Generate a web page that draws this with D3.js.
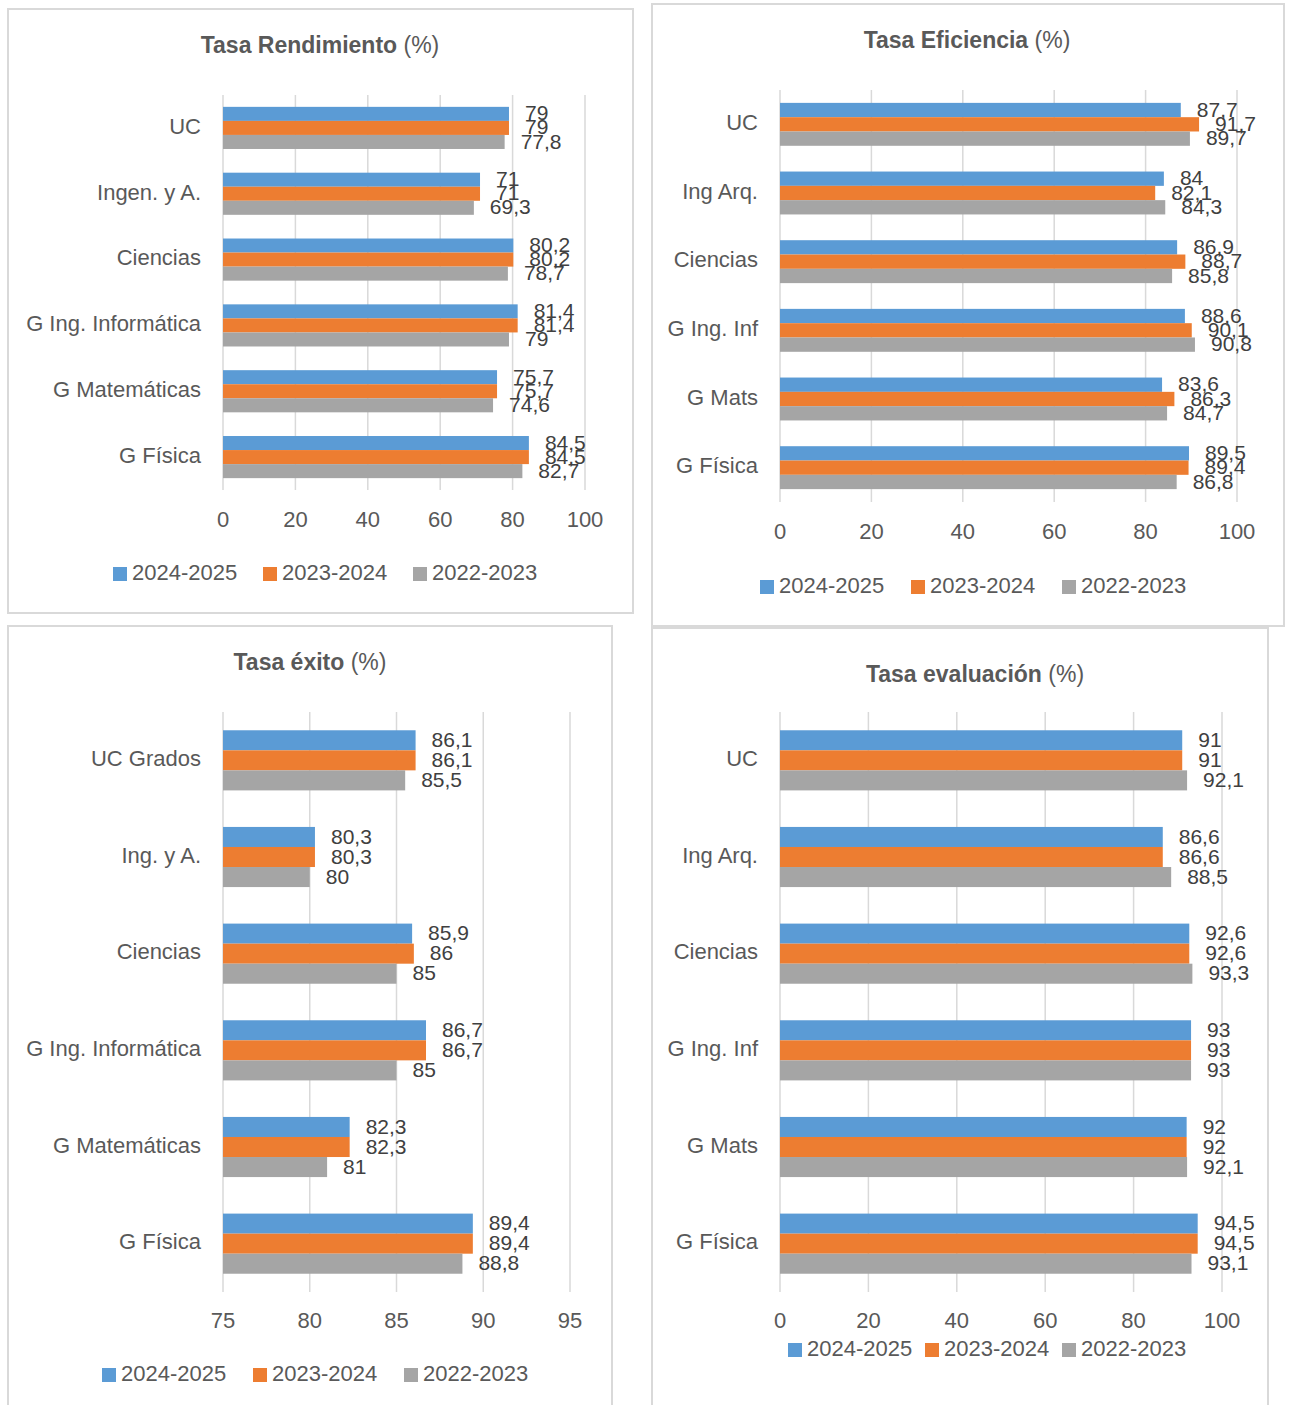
<!DOCTYPE html>
<html lang="es">
<head>
<meta charset="utf-8">
<title>Tasas</title>
<style>
  body { margin: 0; background: #fff; }
  text { font-family: "Liberation Sans", Arial, sans-serif; fill: #595959; }
  .grid line { stroke: #d9d9d9; stroke-width: 1.5; }
  .box { fill: none; stroke: #d9d9d9; stroke-width: 2; }
</style>
</head>
<body>
<svg id="chart" width="1289" height="1405"></svg>
<script src="https://cdn.jsdelivr.net/npm/d3@7"></script>
<script>
// series names + colours
var seriesNames = ["2024-2025", "2023-2024", "2022-2023"];
var colors = ["#5b9bd5", "#ed7d31", "#a5a5a5"];

// Tasa Rendimiento
var rendCats = ["UC", "Ingen. y A.", "Ciencias", "G Ing. Informática", "G Matemáticas", "G Física"];
var rend2425 = [79, 71, 80.2, 81.4, 75.7, 84.5];
var rend2324 = [79, 71, 80.2, 81.4, 75.7, 84.5];
var rend2223 = [77.8, 69.3, 78.7, 79, 74.6, 82.7];

// Tasa Eficiencia
var efiCats = ["UC", "Ing Arq.", "Ciencias", "G Ing. Inf", "G Mats", "G Física"];
var efi2425 = [87.7, 84, 86.9, 88.6, 83.6, 89.5];
var efi2324 = [91.7, 82.1, 88.7, 90.1, 86.3, 89.4];
var efi2223 = [89.7, 84.3, 85.8, 90.8, 84.7, 86.8];

// Tasa éxito
var exiCats = ["UC Grados", "Ing. y A.", "Ciencias", "G Ing. Informática", "G Matemáticas", "G Física"];
var exi2425 = [86.1, 80.3, 85.9, 86.7, 82.3, 89.4];
var exi2324 = [86.1, 80.3, 86, 86.7, 82.3, 89.4];
var exi2223 = [85.5, 80, 85, 85, 81, 88.8];

// Tasa evaluación
var evaCats = ["UC", "Ing Arq.", "Ciencias", "G Ing. Inf", "G Mats", "G Física"];
var eva2425 = [91, 86.6, 92.6, 93, 92, 94.5];
var eva2324 = [91, 86.6, 92.6, 93, 92, 94.5];
var eva2223 = [92.1, 88.5, 93.3, 93, 92.1, 93.1];

var ticks0to100 = [0, 20, 40, 60, 80, 100];
var ticks75to95 = [75, 80, 85, 90, 95];

var svg = d3.select("#chart");
svg.append("rect").attr("width", 1289).attr("height", 1405).attr("fill", "#fff");

var fmt = function(v) { return String(v).replace(".", ","); };

function drawPanel(p) {
    var g = svg.append("g");
    g.append("rect").attr("class", "box")
        .attr("x", p.box[0]).attr("y", p.box[1])
        .attr("width", p.box[2] - p.box[0]).attr("height", p.box[3] - p.box[1]);

    var title = g.append("text")
        .attr("x", p.titleX).attr("y", p.titleY)
        .attr("text-anchor", "middle").attr("dominant-baseline", "middle")
        .style("font-size", "23px");
    title.append("tspan").style("font-weight", "bold").text(p.titleBold);
    title.append("tspan").text(" (%)");

    var x = d3.scaleLinear().domain(p.domain).range(p.xr);
    var y = d3.scaleBand().domain(p.cats).range(p.yr).paddingInner(p.pad).paddingOuter(p.pad / 2);
    var ys = d3.scaleBand().domain(seriesNames).range([0, y.bandwidth()]);

    // gridlines
    g.append("g").attr("class", "grid")
        .selectAll("line").data(p.ticks).enter().append("line")
        .attr("x1", function(d) { return x(d); }).attr("x2", function(d) { return x(d); })
        .attr("y1", p.yr[0]).attr("y2", p.yr[1]);

    // tick labels
    g.selectAll("text.tick").data(p.ticks).enter().append("text")
        .attr("class", "tick")
        .attr("x", function(d) { return x(d); }).attr("y", p.tickY)
        .attr("text-anchor", "middle").attr("dominant-baseline", "middle")
        .style("font-size", "22px")
        .text(function(d) { return d; });

    // category labels
    g.selectAll("text.cat").data(p.cats).enter().append("text")
        .attr("class", "cat")
        .attr("x", p.xr[0] - 22).attr("y", function(d) { return y(d) + y.bandwidth() / 2; })
        .attr("text-anchor", "end").attr("dominant-baseline", "middle")
        .style("font-size", "22px")
        .text(function(d) { return d; });

    // bars, one group per series
    p.series.forEach(function(vals, si) {
        var rows = p.cats.map(function(c, i) { return {cat: c, v: vals[i]}; });
        var sg = g.append("g");
        sg.selectAll("rect").data(rows).enter().append("rect")
            .attr("x", x(p.domain[0]))
            .attr("y", function(d) { return y(d.cat) + ys(seriesNames[si]); })
            .attr("width", function(d) { return x(d.v) - x(p.domain[0]); })
            .attr("height", ys.bandwidth())
            .attr("fill", colors[si]);
        sg.selectAll("text").data(rows).enter().append("text")
            .attr("x", function(d) { return x(d.v) + 16; })
            .attr("y", function(d) { return y(d.cat) + ys(seriesNames[si]) + ys.bandwidth() / 2 + 1; })
            .attr("dominant-baseline", "middle")
            .style("font-size", "21px").style("fill", "#404040")
            .text(function(d) { return fmt(d.v); });
    });

    // legend
    var lg = g.selectAll("g.leg").data(seriesNames).enter().append("g")
        .attr("transform", function(d, i) { return "translate(" + p.legX[i] + "," + p.legY + ")"; });
    lg.append("rect").attr("x", 0).attr("y", -7).attr("width", 14).attr("height", 14)
        .attr("fill", function(d, i) { return colors[i]; });
    lg.append("text").attr("x", 19).attr("y", 0)
        .attr("dominant-baseline", "middle").style("font-size", "22px")
        .text(function(d) { return d; });
}

drawPanel({
    box: [8, 9, 633, 613], titleBold: "Tasa Rendimiento", titleX: 320, titleY: 47,
    cats: rendCats, series: [rend2425, rend2324, rend2223],
    domain: [0, 100], ticks: ticks0to100, xr: [223, 585], yr: [95, 490], pad: 0.36,
    tickY: 521, legY: 574, legX: [113, 263, 413]
});
drawPanel({
    box: [652, 4, 1284, 626], titleBold: "Tasa Eficiencia", titleX: 967, titleY: 42,
    cats: efiCats, series: [efi2425, efi2324, efi2223],
    domain: [0, 100], ticks: ticks0to100, xr: [780, 1237], yr: [90, 502], pad: 0.375,
    tickY: 533, legY: 587, legX: [760, 911, 1062]
});
drawPanel({
    box: [8, 626, 612, 1420], titleBold: "Tasa éxito", titleX: 310, titleY: 664,
    cats: exiCats, series: [exi2425, exi2324, exi2223],
    domain: [75, 95], ticks: ticks75to95, xr: [223, 570], yr: [712, 1292], pad: 0.378,
    tickY: 1322, legY: 1375, legX: [102, 253, 404]
});
drawPanel({
    box: [652, 628, 1268, 1420], titleBold: "Tasa evaluación", titleX: 975, titleY: 676,
    cats: evaCats, series: [eva2425, eva2324, eva2223],
    domain: [0, 100], ticks: ticks0to100, xr: [780, 1222], yr: [712, 1292], pad: 0.378,
    tickY: 1322, legY: 1350, legX: [788, 925, 1062]
});
</script>
</body>
</html>
